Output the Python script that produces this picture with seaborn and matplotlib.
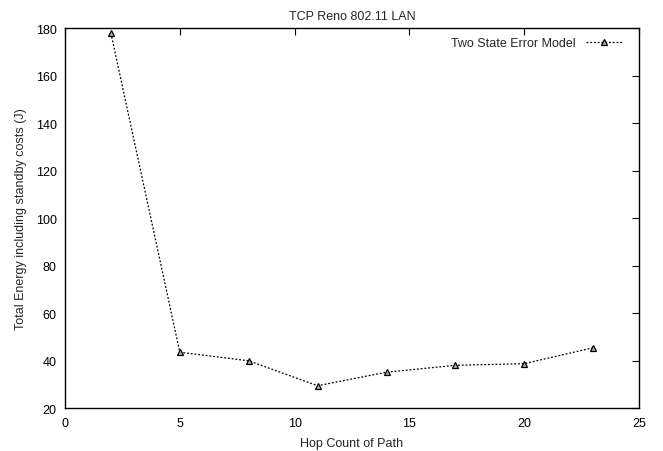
import matplotlib
matplotlib.use("Agg")
import matplotlib.pyplot as plt
import seaborn as sns
import pandas as pd

hop_count = [2, 5, 8, 11, 14, 17, 20, 23]
energy = [178.0, 43.6, 40.0, 29.5, 35.2, 38.1, 38.8, 45.5]
series_name = "Two State Error Model"

df = pd.DataFrame({"hops": hop_count, "energy": energy, "model": series_name})

sns.set_style("white")
plt.rcParams["font.family"] = ["Liberation Sans", "DejaVu Sans"]

fig = plt.figure(figsize=(6.63, 4.52), dpi=100)
ax = fig.add_axes([0.098, 0.0945, 0.866, 0.8405])

sns.lineplot(data=df, x="hops", y="energy", hue="model", palette=["black"],
             ax=ax, linestyle=(0, (1.5, 1.5)), linewidth=0.9,
             marker="^", markersize=5, markerfacecolor="#b0b0b0",
             markeredgecolor="black", markeredgewidth=0.9)

ax.set_xlim(0, 25)
ax.set_ylim(20, 180)
ax.set_xticks([0, 5, 10, 15, 20, 25])
ax.set_yticks(range(20, 181, 20))
ax.tick_params(direction="in", length=5, width=0.8, labelsize=9,
               top=True, right=True, colors="black", pad=6)
for s in ax.spines.values():
    s.set_color("black")
    s.set_linewidth(1.0)

ax.set_xlabel("Hop Count of Path", fontsize=9, labelpad=6)
ax.set_ylabel("Total Energy including standby costs (J)", fontsize=9, labelpad=6)
ax.set_title("TCP Reno 802.11 LAN", fontsize=9, pad=7)

ax.legend(loc="upper right", bbox_to_anchor=(0.985, 1.0), frameon=False,
          markerfirst=False, fontsize=9, handlelength=2.9,
          borderaxespad=0.3, title=None)

fig.savefig("out.png", dpi=100)
